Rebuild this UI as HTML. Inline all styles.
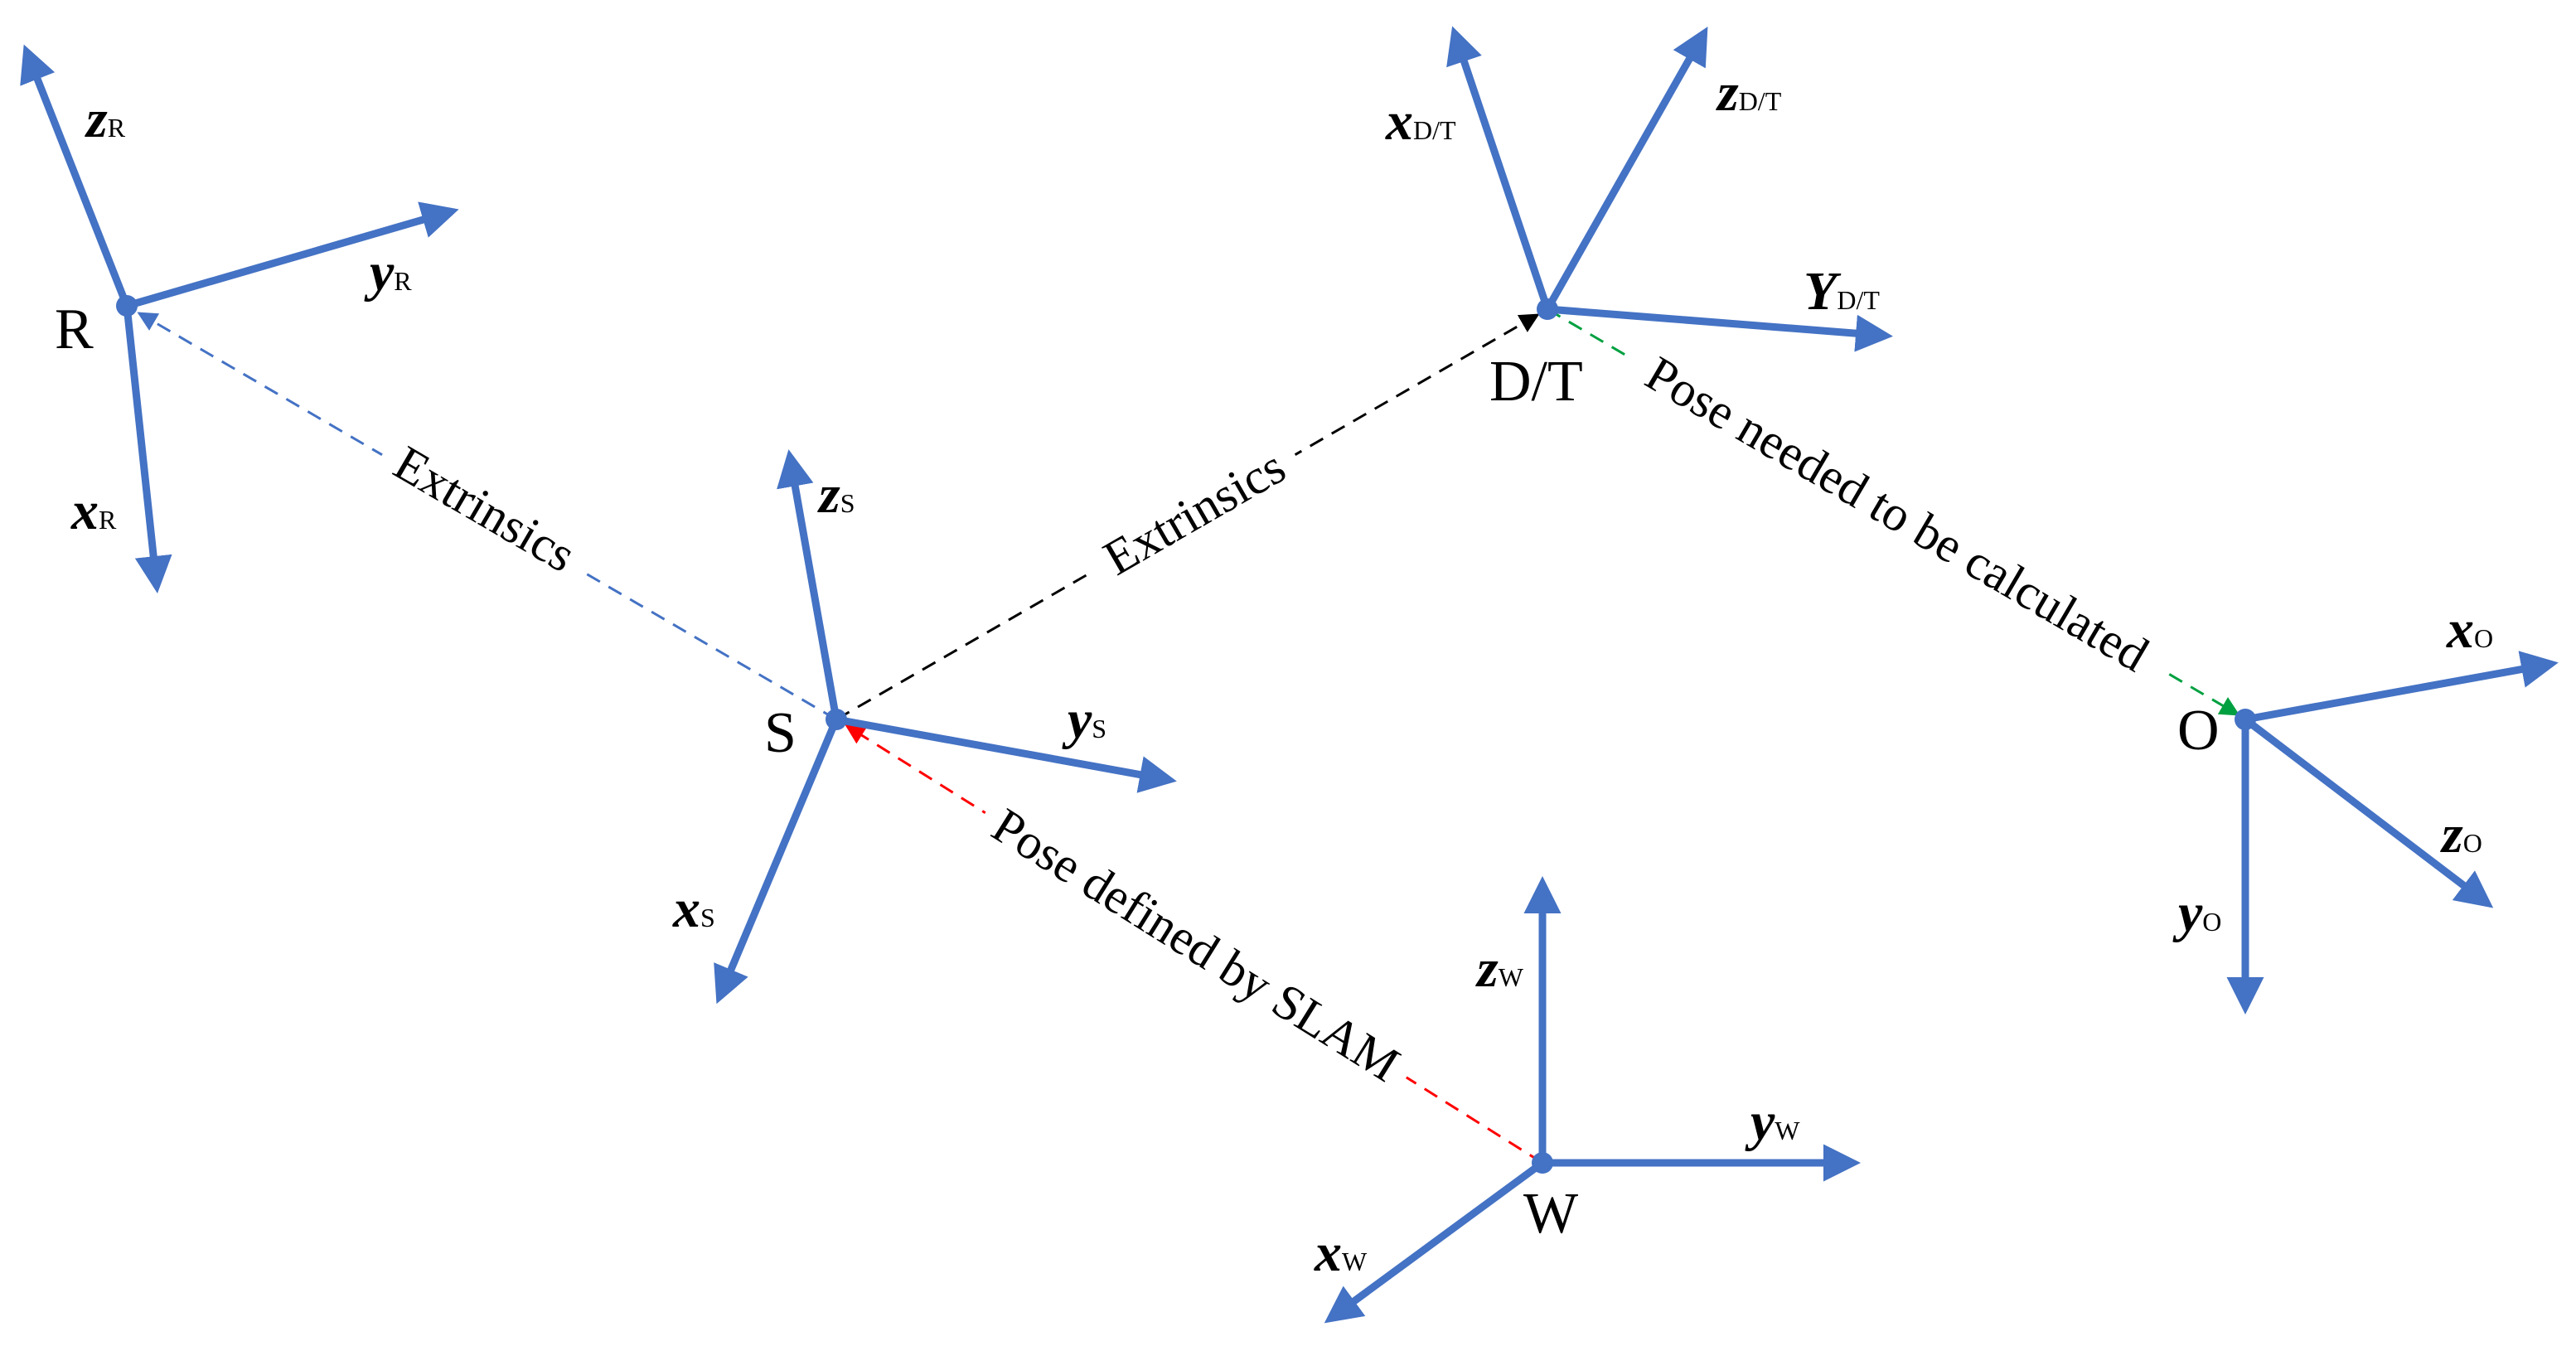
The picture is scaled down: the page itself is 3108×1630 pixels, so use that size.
<!DOCTYPE html>
<html><head><meta charset="utf-8"><style>
html,body{margin:0;padding:0;background:#fff;}
svg{display:block;}
.ax{font-family:"Liberation Serif",serif;font-weight:bold;font-style:italic;font-size:66px;fill:#000;}
.sb{font-family:"Liberation Serif",serif;font-size:32px;fill:#000;font-style:normal;font-weight:normal;}
.pt{font-family:"Liberation Serif",serif;font-size:70px;fill:#000;}
.lb{font-family:"Liberation Serif",serif;font-size:60px;fill:#000;}
</style></head><body>
<svg width="3108" height="1630" viewBox="0 0 3108 1630" xmlns="http://www.w3.org/2000/svg">
<defs>
<marker id="ab" markerWidth="5" markerHeight="5" refX="4" refY="2.5" orient="auto" markerUnits="strokeWidth"><path d="M0,0 L5,2.5 L0,5 z" fill="#4472C4"/></marker>
<marker id="mb" markerWidth="8" markerHeight="8" refX="7" refY="4" orient="auto" markerUnits="strokeWidth"><path d="M0,0 L8,4 L0,8 z" fill="#4472C4"/></marker>
<marker id="mk" markerWidth="8" markerHeight="8" refX="7" refY="4" orient="auto" markerUnits="strokeWidth"><path d="M0,0 L8,4 L0,8 z" fill="#000"/></marker>
<marker id="mg" markerWidth="8" markerHeight="8" refX="7" refY="4" orient="auto" markerUnits="strokeWidth"><path d="M0,0 L8,4 L0,8 z" fill="#00A040"/></marker>
<marker id="mr" markerWidth="8" markerHeight="8" refX="7" refY="4" orient="auto" markerUnits="strokeWidth"><path d="M0,0 L8,4 L0,8 z" fill="#FF0000"/></marker>
</defs>
<g fill="none" stroke-width="3" stroke-dasharray="18,12">
<line x1="1009" y1="868" x2="168" y2="378" stroke="#4472C4" marker-end="url(#mb)"/>
<line x1="1009" y1="868" x2="1855" y2="380" stroke="#000" marker-end="url(#mk)"/>
<line x1="1867" y1="373" x2="2700" y2="862" stroke="#00A040" marker-end="url(#mg)"/>
<line x1="1861" y1="1403" x2="1022" y2="876" stroke="#FF0000" marker-end="url(#mr)"/>
</g>
<g fill="#fff">
<rect x="-140" y="-30" width="280" height="50" transform="translate(585,614) rotate(30.2)"/>
<rect x="-140" y="-30" width="280" height="50" transform="translate(1441,618) rotate(-30)"/>
<rect x="-375" y="-30" width="750" height="50" transform="translate(2289,620) rotate(30.4)"/>
<rect x="-300" y="-30" width="600" height="50" transform="translate(1443,1140) rotate(32)"/>
</g>
<g class="lb" text-anchor="middle">
<text transform="translate(585,614) rotate(30.2)" dy="20">Extrinsics</text>
<text transform="translate(1441,618) rotate(-30)" dy="20">Extrinsics</text>
<text transform="translate(2289,620) rotate(30.4)" dy="20">Pose needed to be calculated</text>
<text transform="translate(1443,1140) rotate(32)" dy="20">Pose defined by SLAM</text>
</g>
<g stroke="#4472C4" stroke-width="9" fill="none" marker-end="url(#ab)">
<line x1="153" y1="369" x2="32" y2="62"/>
<line x1="153" y1="369" x2="545" y2="255"/>
<line x1="153" y1="369" x2="189" y2="707"/>
<line x1="1009" y1="868" x2="953" y2="551"/>
<line x1="1009" y1="868" x2="1411" y2="941"/>
<line x1="1009" y1="868" x2="868" y2="1203"/>
<line x1="1867" y1="373" x2="1755" y2="40"/>
<line x1="1867" y1="373" x2="2056" y2="40"/>
<line x1="1867" y1="373" x2="2275" y2="405"/>
<line x1="2709" y1="868" x2="3078" y2="801"/>
<line x1="2709" y1="868" x2="3001" y2="1090"/>
<line x1="2709" y1="868" x2="2709" y2="1215"/>
<line x1="1861" y1="1403" x2="1861" y2="1066"/>
<line x1="1861" y1="1403" x2="2236" y2="1403"/>
<line x1="1861" y1="1403" x2="1605" y2="1591"/>
</g>
<g fill="#4472C4">
<circle cx="153" cy="369" r="13"/><circle cx="1009" cy="868" r="13"/>
<circle cx="1867" cy="373" r="13"/><circle cx="2709" cy="868" r="13"/><circle cx="1861" cy="1403" r="13"/>
</g>
<g class="pt">
<text x="66" y="420">R</text>
<text x="922" y="907">S</text>
<text x="1797" y="483">D/T</text>
<text x="2627" y="904">O</text>
<text x="1838" y="1487">W</text>
</g>
<g class="ax">
<text x="104" y="165">z<tspan class="sb">R</tspan></text>
<text x="446" y="350">y<tspan class="sb">R</tspan></text>
<text x="86" y="638">x<tspan class="sb">R</tspan></text>
<text x="988" y="618">z<tspan class="sb">S</tspan></text>
<text x="1288" y="890">y<tspan class="sb">S</tspan></text>
<text x="812" y="1118">x<tspan class="sb">S</tspan></text>
<text x="1672" y="168">x<tspan class="sb">D/T</tspan></text>
<text x="2072" y="133">z<tspan class="sb">D/T</tspan></text>
<text x="2176" y="373">Y<tspan class="sb">D/T</tspan></text>
<text x="2952" y="781">x<tspan class="sb">O</tspan></text>
<text x="2946" y="1028">z<tspan class="sb">O</tspan></text>
<text x="2628" y="1123">y<tspan class="sb">O</tspan></text>
<text x="1782" y="1190">z<tspan class="sb">W</tspan></text>
<text x="2112" y="1375">y<tspan class="sb">W</tspan></text>
<text x="1586" y="1533">x<tspan class="sb">W</tspan></text>
</g>
</svg>
</body></html>
